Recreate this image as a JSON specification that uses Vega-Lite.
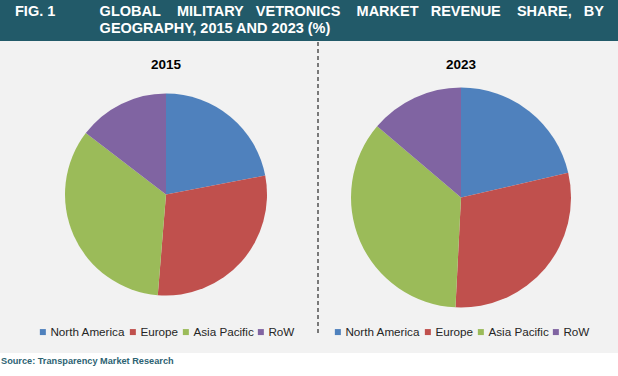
{
  "$schema": "https://vega.github.io/schema/vega-lite/v6.json",
  "background": "#f2f2f2",
  "padding": 0,
  "spacing": 0,
  "center": true,
  "datasets": {
    "shares": [
      {"year": "2015", "region": "North America", "share": 22.0, "ord": 1},
      {"year": "2015", "region": "Europe", "share": 29.3, "ord": 2},
      {"year": "2015", "region": "Asia Pacific", "share": 34.1, "ord": 3},
      {"year": "2015", "region": "RoW", "share": 14.6, "ord": 4},
      {"year": "2023", "region": "North America", "share": 21.4, "ord": 1},
      {"year": "2023", "region": "Europe", "share": 29.4, "ord": 2},
      {"year": "2023", "region": "Asia Pacific", "share": 35.4, "ord": 3},
      {"year": "2023", "region": "RoW", "share": 13.8, "ord": 4}
    ]
  },
  "vconcat": [
    {
      "width": 618,
      "height": 41,
      "view": {"fill": "#225a69", "stroke": null},
      "data": {"values": [{}]},
      "mark": {"type": "text"},
      "encoding": {"text": {"value": ""}},
      "title": {
        "text": [
          "FIG. 1\u00a0\u00a0\u00a0\u00a0\u00a0\u00a0\u00a0\u00a0\u00a0\u00a0\u00a0GLOBAL\u00a0\u00a0\u00a0\u00a0MILITARY\u00a0\u00a0\u00a0VETRONICS\u00a0\u00a0\u00a0\u00a0MARKET\u00a0\u00a0\u00a0REVENUE\u00a0\u00a0\u00a0\u00a0SHARE,\u00a0\u00a0\u00a0BY",
          "\u200b\u00a0\u00a0\u00a0\u00a0\u00a0\u00a0\u00a0\u00a0\u00a0\u00a0\u00a0\u00a0\u00a0\u00a0\u00a0\u00a0\u00a0\u00a0\u00a0\u00a0\u00a0GEOGRAPHY, 2015 AND 2023 (%)"
        ],
        "anchor": "start",
        "frame": "group",
        "dx": 15,
        "offset": -36,
        "color": "#ffffff",
        "font": "Liberation Sans",
        "fontSize": 14.5,
        "fontWeight": "bold",
        "lineHeight": 17
      }
    },
    {
      "spacing": 0,
      "resolve": {"legend": {"color": "independent"}, "scale": {"theta": "independent"}},
      "hconcat": [
        {
          "width": 302,
          "height": 305,
          "data": {"name": "shares"},
          "transform": [{"filter": "datum.year === '2015'"}],
          "title": {"text": "2015", "anchor": "middle", "fontSize": 13.5, "fontWeight": "bold", "color": "#000000", "font": "Liberation Sans", "offset": -29.5},
          "mark": {"type": "arc", "outerRadius": 101},
          "encoding": {
            "theta": {"field": "share", "type": "quantitative", "stack": true},
            "order": {"field": "ord", "type": "quantitative"},
            "color": {
              "field": "region",
              "type": "nominal",
              "scale": {"domain": ["North America", "Europe", "Asia Pacific", "RoW"], "range": ["#4f81bd", "#c0504d", "#9bbb59", "#8064a2"]},
              "legend": {"title": null, "orient": "bottom", "direction": "horizontal", "symbolType": "square", "symbolSize": 36, "symbolStrokeWidth": 0, "labelFont": "Liberation Sans", "labelFontSize": 11.7, "labelColor": "#262626", "labelOffset": 1.7, "columnPadding": 1, "padding": 0, "offset": -21.5}
            }
          }
        },
        {
          "width": 1,
          "height": 294,
          "data": {"values": [{}]},
          "mark": {"type": "rule", "strokeDash": [4, 3], "color": "#000000", "strokeWidth": 1},
          "encoding": {"x": {"datum": 0, "type": "quantitative", "scale": {"domain": [0, 1]}, "axis": null}}
        },
        {
          "width": 284,
          "height": 311,
          "data": {"name": "shares"},
          "transform": [{"filter": "datum.year === '2023'"}],
          "title": {"text": "2023", "anchor": "middle", "fontSize": 13.5, "fontWeight": "bold", "color": "#000000", "font": "Liberation Sans", "offset": -29.5},
          "mark": {"type": "arc", "outerRadius": 110},
          "encoding": {
            "theta": {"field": "share", "type": "quantitative", "stack": true},
            "order": {"field": "ord", "type": "quantitative"},
            "color": {
              "field": "region",
              "type": "nominal",
              "scale": {"domain": ["North America", "Europe", "Asia Pacific", "RoW"], "range": ["#4f81bd", "#c0504d", "#9bbb59", "#8064a2"]},
              "legend": {"title": null, "orient": "bottom", "direction": "horizontal", "symbolType": "square", "symbolSize": 36, "symbolStrokeWidth": 0, "labelFont": "Liberation Sans", "labelFontSize": 11.7, "labelColor": "#262626", "labelOffset": 1.7, "columnPadding": 1, "padding": 0, "offset": -27.5}
            }
          }
        }
      ]
    },
    {
      "width": 618,
      "height": 24,
      "view": {"fill": "#ffffff", "stroke": null},
      "data": {"values": [{}]},
      "mark": {"type": "text"},
      "encoding": {"text": {"value": ""}},
      "title": {
        "text": "Source: Transparency Market Research",
        "anchor": "start",
        "frame": "group",
        "dx": 1,
        "offset": -13,
        "color": "#2d6373",
        "font": "Liberation Sans",
        "fontSize": 9.2,
        "fontWeight": "bold"
      }
    }
  ],
  "config": {
    "view": {"stroke": null},
    "font": "Liberation Sans",
    "legend": {"layout": {"bottom": {"anchor": "middle"}}}
  }
}
